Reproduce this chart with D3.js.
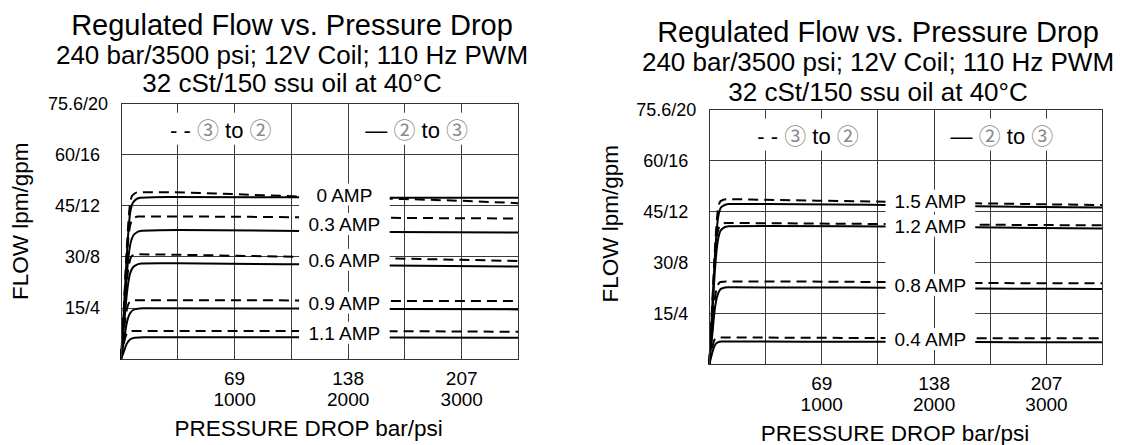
<!DOCTYPE html>
<html><head><meta charset="utf-8">
<script src="https://cdn.jsdelivr.net/npm/d3@7"></script>
<style>
html,body{margin:0;padding:0;background:#fff;}
svg{display:block;}
text{font-family:"Liberation Sans",Arial,"Noto Sans CJK JP",sans-serif;fill:#000;}
</style></head><body>
<svg id="chart" width="1121" height="445"></svg>
<script>
// ---------------- data ----------------
const titleLines = ["Regulated Flow vs. Pressure Drop", "240 bar/3500 psi; 12V Coil; 110 Hz PWM", "32 cSt/150 ssu oil at 40°C"];
const xGridPsi = [0, 500, 1000, 1500, 2000, 2500, 3000, 3500];
const xTickPsi = [1000, 2000, 3000];
const xTickBar = ["69", "138", "207"];
const xTickPsiLabels = ["1000", "2000", "3000"];
const yTickGpm = [4, 8, 12, 16, 20];
const yTickLabels = ["15/4", "30/8", "45/12", "60/16", "75.6/20"];
const xTitle = "PRESSURE DROP bar/psi";
const yTitle = "FLOW lpm/gpm";
const legendDashed = ["- - ", "③", " to ", "②"];
const legendSolid = ["— ", "②", " to ", "③"];

// left chart: [psi, gpm]
const leftCurrents = ["0 AMP", "0.3 AMP", "0.6 AMP", "0.9 AMP", "1.1 AMP"];
const leftLabelFlow = [12.85, 10.55, 7.75, 4.4, 2.05];
const leftDashed = [
  [[0,0],[25,4],[50,8.5],[75,11.8],[100,12.8],[150,13.05],[400,13.05],[1000,12.9],[1570,12.72],[2365,12.55],[3000,12.38],[3500,12.2]],
  [[0,0],[25,3.8],[50,7.8],[75,10.2],[100,10.9],[150,11.15],[600,11.15],[1570,11.1],[2365,11.05],[3500,11.0]],
  [[0,0],[25,3],[50,6],[75,7.6],[100,8.1],[150,8.2],[600,8.15],[1570,8.0],[2365,7.88],[3500,7.68]],
  [[0,0],[20,1.8],[45,3.6],[70,4.4],[100,4.6],[150,4.62],[1570,4.6],[2365,4.56],[3500,4.55]],
  [[0,0],[20,1],[45,1.9],[70,2.15],[100,2.22],[1570,2.22],[2365,2.2],[3500,2.15]]
];
const leftSolid = [
  [[0,0],[25,3.8],[50,8],[80,11.4],[110,12.3],[170,12.62],[400,12.68],[1570,12.66],[2365,12.62],[3500,12.62]],
  [[0,0],[25,3.2],[50,6.5],[80,8.9],[120,9.8],[180,10.05],[500,10.1],[1570,10.03],[2365,9.95],[3500,9.9]],
  [[0,0],[25,2.5],[50,5],[80,6.7],[120,7.3],[180,7.48],[500,7.5],[1570,7.42],[2365,7.32],[3500,7.25]],
  [[0,0],[25,1.4],[50,2.8],[80,3.6],[120,3.9],[200,3.98],[1570,3.97],[2365,3.92],[3500,3.9]],
  [[0,0],[25,0.6],[50,1.2],[80,1.55],[120,1.68],[200,1.72],[1570,1.72],[2365,1.7],[3500,1.68]]
];

// right chart: [psi, gpm]
const rightCurrents = ["1.5 AMP", "1.2 AMP", "0.8 AMP", "0.4 AMP"];
const rightLabelFlow = [12.8, 10.85, 6.2, 1.96];
const rightDashed = [
  [[0,0],[25,4.5],[50,9],[75,12],[100,12.8],[150,12.95],[500,12.9],[1570,12.75],[2365,12.63],[3500,12.49]],
  [[0,0],[25,4],[50,8],[75,10.4],[100,10.95],[150,11.08],[600,11.06],[1570,11.0],[2365,10.95],[3500,10.9]],
  [[0,0],[25,2.6],[50,5.2],[75,6.2],[100,6.45],[150,6.5],[1570,6.45],[2365,6.38],[3500,6.35]],
  [[0,0],[20,1],[45,1.9],[70,2.08],[100,2.1],[1570,2.06],[2365,2.05],[3500,2.05]]
];
const rightSolid = [
  [[0,0],[25,4.2],[50,8.5],[80,11.6],[110,12.35],[170,12.57],[500,12.57],[1570,12.5],[2365,12.4],[3500,12.3]],
  [[0,0],[25,3.6],[50,7.4],[80,9.9],[110,10.6],[170,10.83],[500,10.85],[1570,10.8],[2365,10.74],[3500,10.65]],
  [[0,0],[25,2.2],[50,4.4],[80,5.6],[110,5.95],[170,6.04],[1570,6.0],[2365,5.95],[3500,5.9]],
  [[0,0],[20,0.7],[45,1.4],[70,1.7],[110,1.78],[1570,1.77],[2365,1.74],[3500,1.72]]
];

// ---------------- drawing ----------------
const svg = d3.select("#chart");
const GAP = [1568, 2366];
const GRID = "#3c3c3c";

function drawChart(cfg, currents, labelFlow, dashed, solid) {
  const g = svg.append("g");
  const x = d3.scaleLinear().domain([0, 3500]).range([cfg.left, cfg.right]);
  const y = d3.scaleLinear().domain([0, 20]).range([cfg.bottom, cfg.top]);

  // titles
  g.selectAll("text.title").data(titleLines).join("text")
    .attr("class", "title")
    .attr("x", cfg.titleX).attr("y", (d, i) => cfg.titleY[i])
    .attr("text-anchor", "middle")
    .attr("font-size", (d, i) => i === 0 ? 29 : 26)
    .text(d => d);

  // grid
  g.append("g").selectAll("line").data(xGridPsi).join("line")
    .attr("x1", d => x(d)).attr("x2", d => x(d))
    .attr("y1", y(0)).attr("y2", y(20))
    .attr("stroke", GRID).attr("stroke-width", 1).attr("shape-rendering", "crispEdges");
  g.append("g").selectAll("line").data(yTickGpm).join("line")
    .attr("x1", x(0)).attr("x2", x(3500))
    .attr("y1", d => y(d)).attr("y2", d => y(d))
    .attr("stroke", GRID).attr("stroke-width", 1).attr("shape-rendering", "crispEdges");

  // curves
  const line = d3.line().x(d => x(d[0])).y(d => y(d[1])).curve(d3.curveMonotoneX);
  g.append("g").selectAll("path").data(solid).join("path")
    .attr("d", line).attr("fill", "none").attr("stroke", "#000").attr("stroke-width", 2);
  g.append("g").selectAll("path").data(dashed).join("path")
    .attr("d", line).attr("fill", "none").attr("stroke", "#000").attr("stroke-width", 2)
    .attr("stroke-dasharray", "10,6");

  // label gap
  g.append("rect")
    .attr("x", x(GAP[0])).attr("width", x(GAP[1]) - x(GAP[0]))
    .attr("y", y(15.7)).attr("height", y(0.08) - y(15.7))
    .attr("fill", "#fff");
  g.append("line")
    .attr("x1", x(2000)).attr("x2", x(2000)).attr("y1", y(0)).attr("y2", y(16))
    .attr("stroke", GRID).attr("stroke-width", 1).attr("shape-rendering", "crispEdges");

  // current labels
  const lab = g.append("g");
  currents.forEach((c, i) => {
    const t = lab.append("text")
      .attr("x", x((GAP[0] + GAP[1]) / 2)).attr("y", y(labelFlow[i]) + 6.7)
      .attr("text-anchor", "middle").attr("font-size", 19).text(c);
    const b = t.node().getBBox();
    lab.insert("rect", "text")
      .attr("x", b.x - 2).attr("y", b.y - 1).attr("width", b.width + 4).attr("height", b.height + 1)
      .attr("fill", "#fff");
  });

  // legend
  const legs = [[legendDashed, 0.251], [legendSolid, 0.744]];
  legs.forEach(([parts, fx]) => {
    const lg = g.append("g");
    const t = lg.append("text")
      .attr("x", x(3500 * fx)).attr("y", y(17.9) + 7.5)
      .attr("text-anchor", "middle").attr("font-size", 22);
    parts.forEach((p, k) => {
      t.append("tspan").text(p).attr("fill", k % 2 === 1 ? "#8a8a8a" : "#000");
    });
    const b = t.node().getBBox();
    lg.insert("rect", "text")
      .attr("x", b.x - 6).attr("y", b.y - 5).attr("width", b.width + 12).attr("height", b.height + 7)
      .attr("fill", "#fff");
  });

  // frame
  g.append("rect")
    .attr("x", x(0)).attr("y", y(20)).attr("width", x(3500) - x(0)).attr("height", y(0) - y(20))
    .attr("fill", "none").attr("stroke", "#333").attr("stroke-width", 1).attr("shape-rendering", "crispEdges");

  // y tick labels
  g.append("g").selectAll("text").data(yTickGpm).join("text")
    .attr("x", (d, i) => x(0) - (i === yTickGpm.length - 1 ? 13 : 21))
    .attr("y", d => y(d) + 6.3)
    .attr("text-anchor", "end").attr("font-size", 18)
    .text((d, i) => yTickLabels[i]);

  // x tick labels
  const xt = g.append("g").selectAll("g").data(xTickPsi).join("g")
    .attr("transform", d => `translate(${x(d)},${y(0)})`);
  xt.append("text").attr("y", 26).attr("text-anchor", "middle").attr("font-size", 19)
    .text((d, i) => xTickBar[i]);
  xt.append("text").attr("y", 46.5).attr("text-anchor", "middle").attr("font-size", 19)
    .text((d, i) => xTickPsiLabels[i]);

  // axis titles
  g.append("text")
    .attr("x", cfg.left + 0.472 * (cfg.right - cfg.left)).attr("y", y(0) + 77)
    .attr("text-anchor", "middle").attr("font-size", 22.5).text(xTitle);
  g.append("text")
    .attr("transform", `translate(${cfg.left - cfg.yTitleDx},${(cfg.top + cfg.bottom) / 2 + cfg.yTitleDy}) rotate(-90)`)
    .attr("text-anchor", "middle").attr("font-size", 22.5).text(yTitle);
}

drawChart({left: 121, right: 518.5, top: 103.3, bottom: 359.3, titleX: 292, titleY: [34.5, 63.5, 92], yTitleDx: 93, yTitleDy: -10},
  leftCurrents, leftLabelFlow, leftDashed, leftSolid);
drawChart({left: 709.3, right: 1102.7, top: 109.3, bottom: 364.3, titleX: 878, titleY: [42, 71, 100.5], yTitleDx: 91, yTitleDy: -13},
  rightCurrents, rightLabelFlow, rightDashed, rightSolid);
</script>
</body></html>
